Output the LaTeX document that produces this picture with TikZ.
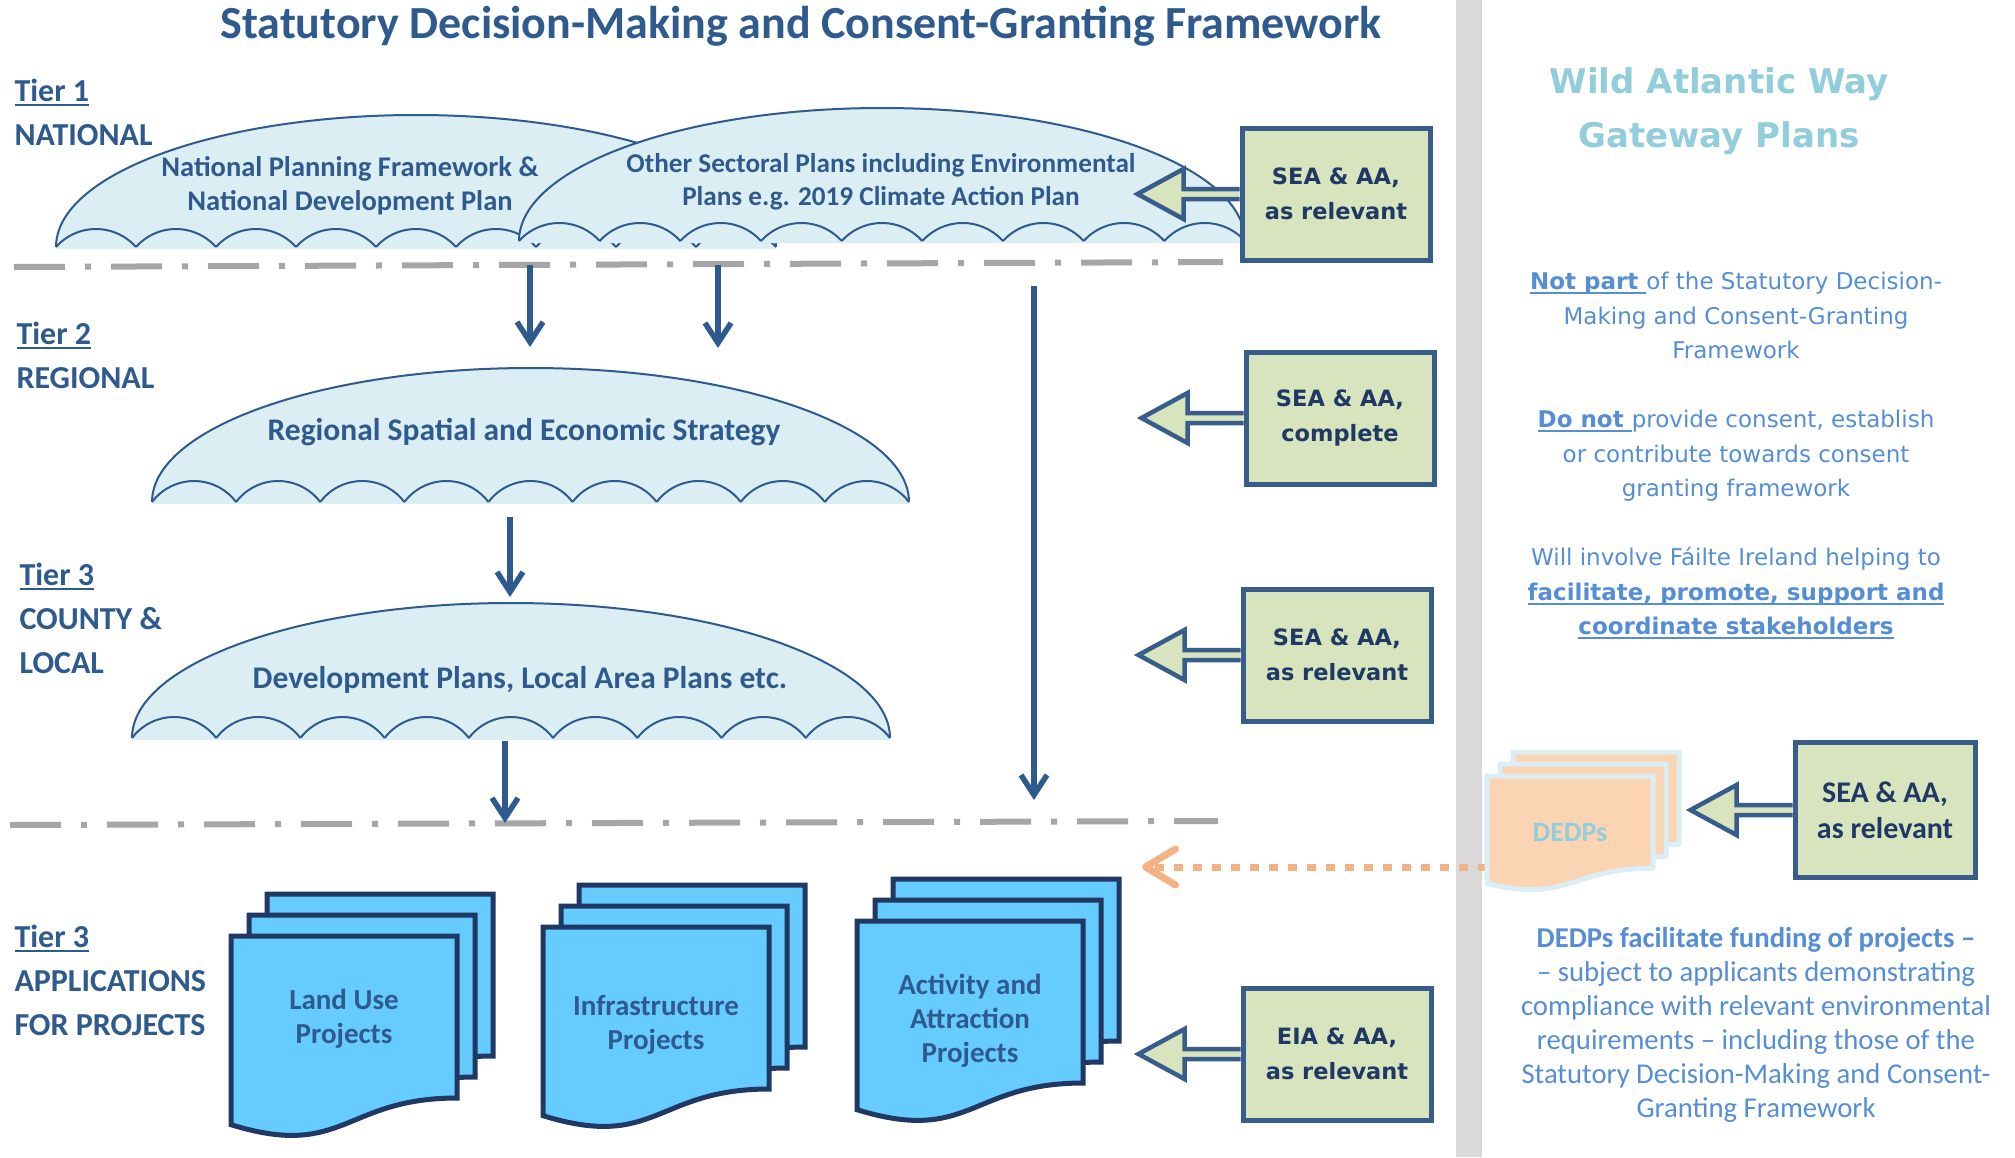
\documentclass[tikz,border=0pt]{standalone}
\usepackage{fontspec}
\setmainfont{Carlito}
\newfontfamily\verd{DejaVu Sans}
\usetikzlibrary{arrows.meta, positioning, calc}

\definecolor{navy}{HTML}{2F5A8E}
\definecolor{darknavy}{HTML}{1F3864}
\definecolor{boxblue}{HTML}{385D8A}
\definecolor{seagreen}{HTML}{D7E4BD}
\definecolor{umbfill}{HTML}{DBEEF4}
\definecolor{dashgray}{HTML}{A6A6A6}
\definecolor{docblue}{HTML}{66CCFF}
\definecolor{docline}{HTML}{203864}
\definecolor{peach}{HTML}{FBD4B4}
\definecolor{paleblue}{HTML}{DAEEF3}
\definecolor{tealtext}{HTML}{92CDDC}
\definecolor{notetext}{HTML}{558ED5}
\definecolor{orangeline}{HTML}{F4B183}
\definecolor{bandgray}{HTML}{D9D9D9}

\newsavebox\ulbox
\newcommand{\ulin}[1]{\sbox\ulbox{#1}\rlap{\vrule height -2.5pt depth 4.5pt width \wd\ulbox}\usebox\ulbox}

% dome with scalloped rim: centre x, base y, half width, height, scallops, scallop rise
\newcommand{\umbrella}[6]{%
  \pgfmathsetmacro{\uw}{2*#3/#5}%
  \pgfmathsetmacro{\ur}{(\uw*\uw/4+#6*#6)/(2*#6)}%
  \pgfmathsetmacro{\uphi}{atan((\ur-#6)/(\uw/2))}%
  \fill[umbfill] (#1-#3,#2+2) -- (#1-#3,#2) arc[start angle=180,end angle=360,x radius=#3,y radius=#4] -- (#1+#3,#2+2) -- cycle;
  \draw[umbline] (#1-#3,#2) arc[start angle=180,end angle=360,x radius=#3,y radius=#4];
  \foreach \k in {1,...,#5}
    \draw[umbline] (#1-#3+\k*\uw-\uw,#2) arc[start angle=180+\uphi,end angle=360-\uphi,radius=\ur];
}

% page with wavy foot: style, left x, top y, width, height
\newcommand{\docshape}[5]{%
  \filldraw[#1] (#2,#3) -- (#2+#4,#3) -- (#2+#4,#3+0.802*#5) .. controls (#2+0.5*#4,#3+0.802*#5) and (#2+0.5*#4,#3+1.107*#5) .. (#2,#3+0.934*#5) -- cycle;
}

\begin{document}
\begin{tikzpicture}[x=1pt,y=-1pt,
  tierlabel/.style={anchor=west, align=left, text=navy, font=\bfseries\fontsize{32}{44}\selectfont},
  umbtext/.style={align=center, text=navy, font=\bfseries\fontsize{31.5}{34}\selectfont},
  umbline/.style={draw=navy, line width=2pt},
  seabox/.style={draw=boxblue, fill=seagreen, line width=5pt, minimum width=188pt, minimum height=132pt, align=center, text=darknavy, font=\verd\bfseries\fontsize{22.5}{35.5}\selectfont},
  bkarrow/.style={draw=boxblue, fill=seagreen, line width=4.5pt, line join=miter},
  flow/.style={draw=navy, line width=5.5pt, -{Straight Barb[length=20pt,width=26pt]}},
  tierline/.style={draw=dashgray, line width=6pt, dash pattern=on 51pt off 20pt on 6pt off 20pt},
  projdoc/.style={draw=docline, fill=docblue, line width=5pt, line join=miter},
  dedpdoc/.style={draw=paleblue, fill=peach, line width=5pt, line join=round},
  doctext/.style={align=center, text=navy, font=\bfseries\fontsize{29}{34}\selectfont},
  dedpflow/.style={draw=orangeline, line width=7pt, dash pattern=on 9pt off 10pt, -{Straight Barb[length=30pt,width=36pt,round]}},
  notes/.style={align=center, text=notetext, font=\verd\fontsize{23}{34.5}\selectfont}
]
\useasboundingbox (0,0) rectangle (2015,1157);
\fill[white] (0,0) rectangle (2015,1157);
\fill[bandgray] (1456,0) rectangle (1482,1157);

% tier separators
\coordinate (sepa-l) at (14,267);
\coordinate (sepa-r) at (1223,262);
\coordinate (sepb-l) at (10,825);
\coordinate (sepb-r) at (1218,821);
\draw[tierline] (sepa-l) -- (sepa-r);
\draw[tierline] (sepb-l) -- (sepb-r);

% umbrellas
\umbrella{416}{247}{360}{132}{9}{18}
\umbrella{882}{241}{363}{133}{9}{18}
\umbrella{530.5}{502}{378.5}{134}{9}{21}
\umbrella{511}{738}{379}{135}{9}{21}

\node[umbtext, font=\bfseries\fontsize{28.5}{34}\selectfont] (npf) at (350,186) {National Planning Framework \&\\National Development Plan};
\node[umbtext, font=\bfseries\fontsize{27.2}{33}\selectfont] (sectoral) at (881,182) {Other Sectoral Plans including Environmental\\Plans e.g. 2019 Climate Action Plan};
\node[umbtext] (rses) at (524,432) {Regional Spatial and Economic Strategy};
\node[umbtext] (devplans) at (520,680) {Development Plans, Local Area Plans etc.};

% flows down the tiers
\coordinate (npf-out) at (530,265);
\coordinate (rses-in1) at (530,347);
\coordinate (sect-out) at (718,265);
\coordinate (rses-in2) at (718,348);
\coordinate (nat-out) at (1034,286);
\coordinate (proj-in) at (1034,800);
\coordinate (rses-out) at (510,517);
\coordinate (dev-in) at (510,597);
\coordinate (dev-out) at (505,741);
\coordinate (app-in) at (505,823);
\draw[flow] (npf-out) -- (rses-in1);
\draw[flow] (sect-out) -- (rses-in2);
\draw[flow] (nat-out) -- (proj-in);
\draw[flow] (rses-out) -- (dev-in);
\draw[flow] (dev-out) -- (app-in);

% project applications
\foreach \x/\y in {231/936, 543/927, 857/921} {
  \docshape{projdoc}{\x+36}{\y-42}{226}{202}
  \docshape{projdoc}{\x+18}{\y-21}{226}{202}
  \docshape{projdoc}{\x}{\y}{226}{202}
}
\node[doctext] (landuse) at (344,1019) {Land Use\\Projects};
\node[doctext] (infra) at (656,1025) {Infrastructure\\Projects};
\node[doctext] (activity) at (970,1021) {Activity and\\Attraction\\Projects};

% DEDPs
\coordinate (dedp-w) at (1487,867);
\coordinate (dedp-tip) at (1142,867);
\draw[dedpflow] (dedp-w) -- (dedp-tip);
\docshape{dedpdoc}{1513}{752}{166}{115}
\docshape{dedpdoc}{1500}{764}{166}{115}
\docshape{dedpdoc}{1487}{776}{166}{115}
\node[text=tealtext, font=\bfseries\fontsize{28}{34}\selectfont] (dedp) at (1570,833) {DEDPs};

% assessments
\node[seabox] (sea1) at (1336,194) {SEA \& AA,\\as relevant};
\node[seabox] (sea2) at (1340,418) {SEA \& AA,\\complete};
\node[seabox] (sea3) at (1337,655) {SEA \& AA,\\as relevant};
\node[seabox] (eia4) at (1337,1054) {EIA \& AA,\\as relevant};
\node[seabox, minimum width=180pt, minimum height=135pt, font=\bfseries\fontsize{30}{36}\selectfont] (sea5) at (1885,810) {SEA \& AA,\\as relevant};
\foreach \b in {sea1,sea2,sea3,eia4,sea5}
  \filldraw[bkarrow] ($(\b.west)+(0,-5)$) -- ++(-56,0) -- ++(0,-20) -- ++(-46,25) -- ++(46,25) -- ++(0,-20) -- ++(56,0);

% gateway plans panel
\node[text=tealtext, align=center, font=\verd\bfseries\fontsize{34}{54}\selectfont] (waw) at (1719,111) {Wild Atlantic Way\\Gateway Plans};
\node[notes] (status) at (1736,456) {\ulin{\textbf{Not part }}of the Statutory Decision-\\Making and Consent-Granting\\Framework\\[34.5pt]\ulin{\textbf{Do not }}provide consent, establish\\or contribute towards consent\\granting framework\\[34.5pt]Will involve Fáilte Ireland helping to\\\ulin{\textbf{facilitate, promote, support and}}\\\ulin{\textbf{coordinate stakeholders}}};
\node[align=center, text=notetext, font=\fontsize{28.7}{34}\selectfont] (funding) at (1756,1025) {\textbf{DEDPs facilitate funding of projects –}\\– subject to applicants demonstrating\\compliance with relevant environmental\\requirements – including those of the\\Statutory Decision-Making and Consent-\\Granting Framework};

% tiers
\node[tierlabel] (tier1) at (11,112) {\ulin{Tier 1}\\NATIONAL};
\node[tierlabel] (tier2) at (13,355) {\ulin{Tier 2}\\REGIONAL};
\node[tierlabel] (tier3) at (16,618) {\ulin{Tier 3}\\COUNTY \&\\LOCAL};
\node[tierlabel] (tier3p) at (11,980) {\ulin{Tier 3}\\APPLICATIONS\\FOR PROJECTS};

\node[text=navy, font=\bfseries\fontsize{46}{54}\selectfont] (title) at (801,26) {Statutory Decision-Making and Consent-Granting Framework};
\end{tikzpicture}
\end{document}
